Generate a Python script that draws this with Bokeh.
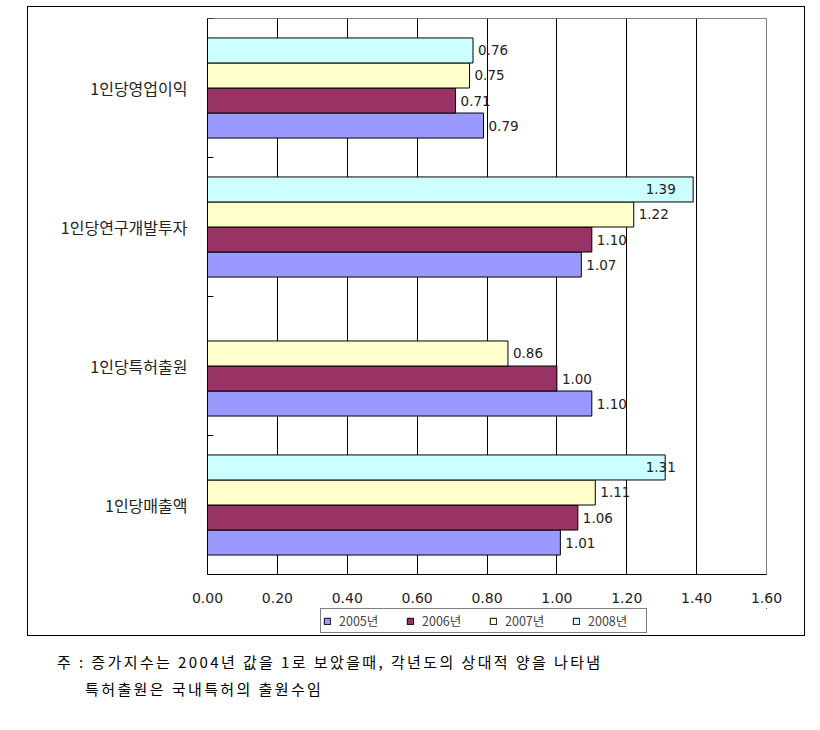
import numpy as np
from bokeh.plotting import figure
from bokeh.layouts import column
from bokeh.models import (ColumnDataSource, FactorRange, Range1d, NumeralTickFormatter,
                          FixedTicker, Legend, LegendItem, Div)
from bokeh.transform import dodge
from bokeh.core.properties import value
from bokeh.embed import file_html
from bokeh.resources import INLINE

# ---------------- data ----------------
categories = ["1인당영업이익", "1인당연구개발투자", "1인당특허출원", "1인당매출액"]
years = ["2005년", "2006년", "2007년", "2008년"]
v2005 = [0.79, 1.07, 1.10, 1.01]
v2006 = [0.71, 1.10, 1.00, 1.06]
v2007 = [0.75, 1.22, 0.86, 1.11]
v2008 = [0.76, 1.39, None, 1.31]
x_ticks = [0.0, 0.2, 0.4, 0.6, 0.8, 1.0, 1.2, 1.4, 1.6]
footnote1 = "주 : 증가지수는 2004년 값을 1로 보았을때, 각년도의 상대적 양을 나타냄"
footnote2 = "특허출원은 국내특허의 출원수임"

series = [v2005, v2006, v2007, v2008]
colors = ["#9999FF", "#993366", "#FFFFCC", "#CCFFFF"]
offsets = [-0.27, -0.09, 0.09, 0.27]

# ---------------- main chart ----------------
p = figure(width=778, height=602, output_backend="svg", toolbar_location=None,
           y_range=FactorRange(factors=categories[::-1], range_padding=0),
           x_range=Range1d(0, 1.6),
           min_border_left=179, min_border_right=40,
           min_border_top=11, min_border_bottom=35)
p.background_fill_color = "white"
p.border_fill_color = "white"
p.outline_line_color = "#808080"
p.outline_line_width = 1
p.styles = {"border": "1px solid black", "border-bottom": "none"}
p.margin = (6, 0, 0, 27)

for vals, col, off in zip(series, colors, offsets):
    cats = [c for c, v in zip(categories, vals) if v is not None]
    vv = np.array([v for v in vals if v is not None], dtype=float)
    src = ColumnDataSource(dict(cat=cats, val=vv, lx=np.minimum(vv, 1.24),
                                lab=["%.2f" % v for v in vv]))
    p.hbar(y=dodge("cat", off, range=p.y_range), right="val", left=0, height=0.18,
           source=src, fill_color=col, line_color="black", line_width=1)
    p.text(x="lx", y=dodge("cat", off, range=p.y_range), text="lab", source=src,
           x_offset=5, text_align="left", text_baseline="middle",
           text_font=value("DejaVu Sans"), text_font_size="13.5px", text_color="#222222")

# small inward ticks at category boundaries on the left axis
p.segment(x0=[0] * 4, x1=[0.017] * 4, y0=[1, 2, 3, 4], y1=[1, 2, 3, 4],
          line_color="black", line_width=1)

p.xaxis.ticker = FixedTicker(ticks=x_ticks)
p.xaxis.formatter = NumeralTickFormatter(format="0.00")
p.xaxis.major_tick_line_color = None
p.xaxis.minor_tick_line_color = None
p.xaxis.major_label_standoff = 12
p.xaxis.major_label_text_font = "DejaVu Sans"
p.xaxis.major_label_text_font_size = "14px"
p.xaxis.major_label_text_color = "#222222"
p.xaxis.axis_line_color = "black"

p.yaxis.major_tick_line_color = None
p.yaxis.major_label_standoff = 14
p.yaxis.major_label_text_font = "Noto Sans CJK KR"
p.yaxis.major_label_text_font_size = "16px"
p.yaxis.major_label_text_color = "#222222"
p.yaxis.axis_line_color = "black"

p.xgrid.grid_line_color = "black"
p.xgrid.grid_line_width = 1
p.xgrid.ticker = FixedTicker(ticks=x_ticks)
p.ygrid.grid_line_color = None

# ---------------- legend strip (inside the chart border) ----------------
lp = figure(width=778, height=28, output_backend="svg", toolbar_location=None,
            x_axis_location=None, y_axis_location=None,
            x_range=Range1d(0, 1), y_range=Range1d(0, 1),
            min_border=0, min_border_left=0, min_border_right=0,
            min_border_top=0, min_border_bottom=0)
lp.outline_line_color = None
lp.grid.grid_line_color = None
lp.styles = {"border": "1px solid black", "border-top": "none"}
lp.margin = (0, 0, 0, 27)
items = []
for yr, col in zip(years, colors):
    # legend swatch renderer (its point lies outside the visible range)
    r = lp.hbar(y=[5], right=[5], left=4, height=0.1, fill_color=col,
                line_color="black", line_width=1)
    items.append(LegendItem(label=yr, renderers=[r]))
legend = Legend(items=items, orientation="horizontal", location=(113, 3),
                glyph_width=8, glyph_height=8, label_standoff=8, spacing=11,
                padding=2, margin=0, border_line_color="black", border_line_width=1,
                label_text_font="Noto Sans CJK KR", label_text_font_size="12.5px",
                label_height=11, label_width=56, background_fill_alpha=1)
lp.add_layout(legend, "center")

# ---------------- footnote ----------------
note = Div(text=(
    '<div style="font-family:\'Noto Sans CJK KR\';font-size:15px;line-height:27px;'
    'letter-spacing:2.4px;color:black;white-space:nowrap;">'
    '<div style="padding-left:57px;">' + footnote1 + '</div>'
    '<div style="padding-left:85px;">' + footnote2 + '</div></div>'),
    width=800, height=70, margin=(12, 0, 0, 0))

layout = column(p, lp, note)
open("out.html", "w").write(file_html(layout, INLINE))
